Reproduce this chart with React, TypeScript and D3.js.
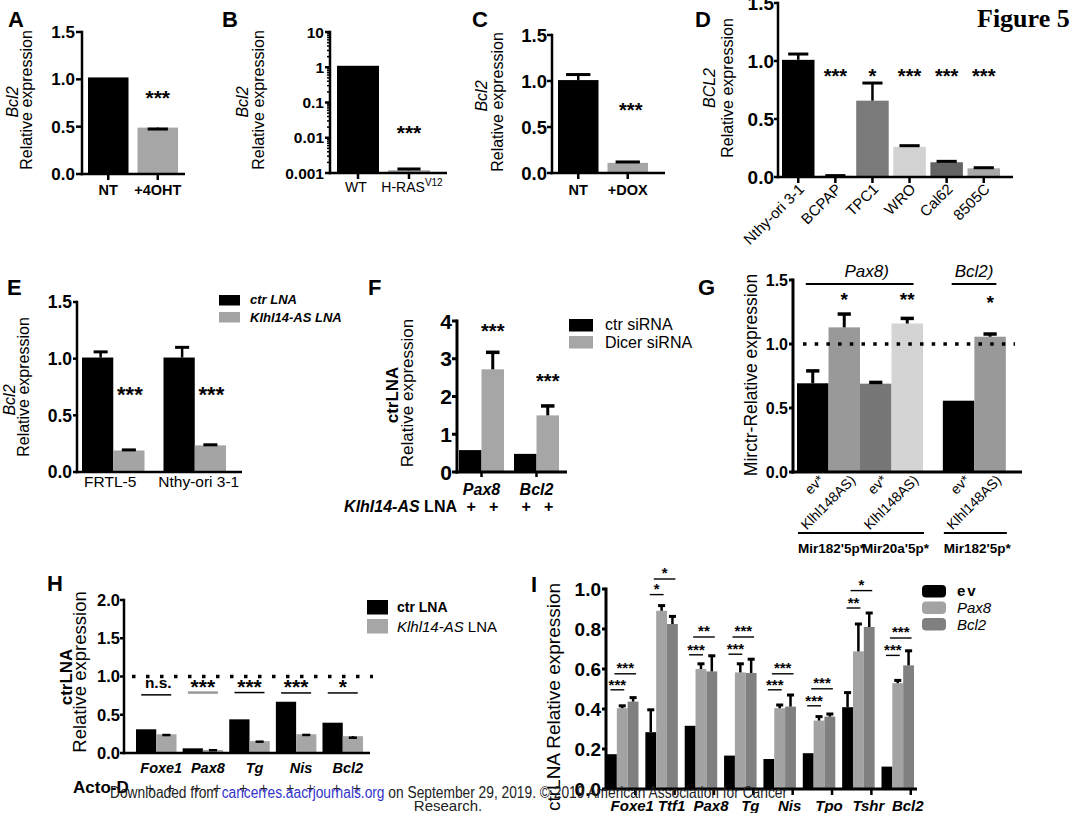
import React from "react";
import * as d3 from "d3";

const FONT = "'Liberation Sans', Arial, Helvetica, sans-serif";
const SERIF = "'Liberation Serif', 'Times New Roman', serif";
type N = number | null;

// ---------------- DATA ----------------
// A
const aCats = ["NT", "+4OHT"];
const aValues = [1.02, 0.49];
const aErr: N[] = [null, 0.475];
const aStar = "***";
const aStarY = 0.856;
const aTicks = [0, 0.5, 1.0, 1.5];
// B
const bCats = ["WT", "H-RAS"];
const bValues = [1.1, 0.0012];
const bErr: N[] = [null, 0.0013];
const bStar = "***";
const bStarY = 0.0195;
const bTicks = [0.001, 0.01, 0.1, 1, 10];
const bTickLabels = ["0.001", "0.01", "0.1", "1", "10"];
// C
const cCats = ["NT", "+DOX"];
const cValues = [1.01, 0.11];
const cErr: N[] = [1.07, 0.12];
const cStar = "***";
const cStarY = 0.74;
const cTicks = [0, 0.5, 1.0, 1.5];
// D
const dCats = ["Nthy-ori 3-1", "BCPAP", "TPC1", "WRO", "Cal62", "8505C"];
const dValues = [1.01, 0.01, 0.658, 0.26, 0.127, 0.075];
const dErr: N[] = [1.06, 0.012, 0.81, 0.27, 0.135, 0.08];
const dStars = ["", "***", "*", "***", "***", "***"];
const dStarY = 0.914;
const dColors = ["#000000", "#9c9c9c", "#7a7a7a", "#d2d2d2", "#636363", "#a8a8a8"];
const dTicks = [0, 0.5, 1.0, 1.5];
// E
const eGroups = ["FRTL-5", "Nthy-ori 3-1"];
const eSeries = ["ctr LNA", "Klhl14-AS LNA"];
const eCtr = [1.01, 1.01];
const eCtrErr = [1.06, 1.1];
const eKlhl = [0.19, 0.235];
const eKlhlErr = [0.195, 0.24];
const eStars = ["***", "***"];
const eStarY = 0.73;
const eTicks = [0, 0.5, 1.0, 1.5];
// F
const fGroups = ["Pax8", "Bcl2"];
const fSeries = ["ctr siRNA", "Dicer siRNA"];
const fCtr = [0.58, 0.48];
const fDicer = [2.72, 1.5];
const fDicerErr = [3.17, 1.75];
const fStars = ["***", "***"];
const fStarY = [3.85, 2.52];
const fTicks = [0, 1, 2, 3, 4];
// G
const gLabels = ["ev*", "Klhl148AS)", "ev*", "Klhl148AS)", "ev*", "Klhl148AS)"];
const gValues = [0.693, 1.13, 0.69, 1.16, 0.557, 1.057];
const gErr: N[] = [0.79, 1.234, 0.7, 1.2, null, 1.078];
const gColors = ["#000000", "#999999", "#777777", "#d4d4d4", "#000000", "#999999"];
const gStars = ["", "*", "", "**", "", "*"];
const gStarY = [0, 1.38, 0, 1.38, 0, 1.36];
const gTopLabels = ["Pax8)", "Bcl2)"];
const gTopSpans = [[0, 3], [4, 5]];
const gMirs = ["Mir182'5p*", "Mir20a'5p*", "Mir182'5p*"];
const gMirSpans = [[0, 1], [2, 3], [4, 5]];
const gTicks = [0, 0.5, 1.0, 1.5];
const gRef = 1.0;
// H
const hGenes = ["Foxe1", "Pax8", "Tg", "Nis", "Bcl2"];
const hSeries = ["ctr LNA", "Klhl14-AS LNA"];
const hCtr = [0.31, 0.061, 0.44, 0.67, 0.396];
const hKlhl = [0.245, 0.04, 0.155, 0.245, 0.22];
const hKlhlErr = [0.235, 0.036, 0.148, 0.236, 0.2];
const hSig = ["n.s.", "***", "***", "***", "*"];
const hSigY = [0.76, 0.79, 0.79, 0.785, 0.785];
const hSigColor = ["#000", "#999", "#000", "#000", "#000"];
const hTicks = [0, 0.5, 1.0, 1.5, 2.0];
const hRef = 1.0;
// I
const iGenes = ["Foxe1", "Ttf1", "Pax8", "Tg", "Nis", "Tpo", "Tshr", "Bcl2"];
const iSeries = ["ev", "Pax8", "Bcl2"];
const iEv = [0.174, 0.284, 0.316, 0.167, 0.15, 0.179, 0.409, 0.112];
const iEvErr: N[] = [null, 0.396, null, null, null, null, 0.482, null];
const iPax8 = [0.404, 0.891, 0.6, 0.583, 0.404, 0.342, 0.688, 0.529];
const iPax8Err = [0.416, 0.917, 0.626, 0.626, 0.42, 0.362, 0.825, 0.543];
const iBcl2 = [0.437, 0.825, 0.588, 0.58, 0.412, 0.362, 0.81, 0.618];
const iBcl2Err = [0.457, 0.863, 0.666, 0.649, 0.47, 0.375, 0.88, 0.691];
const iShortY = [0.496, 0.972, 0.671, 0.674, 0.496, 0.416, 0.905, 0.668];
const iShortTxt = ["***", "*", "***", "***", "***", "***", "**", "***"];
const iLongY = [0.576, 1.05, 0.76, 0.76, 0.576, 0.501, 0.992, 0.755];
const iLongTxt = ["***", "*", "**", "***", "***", "***", "*", "***"];
const iTicks = [0, 0.2, 0.4, 0.6, 0.8, 1.0];

// ---------------- HELPERS ----------------
const f1 = d3.format(".1f");

function band(domain: string[], left: number, right: number, bw: number) {
  const n = domain.length;
  const step = n > 1 ? (right - left - bw) / (n - 1) : bw;
  const w = bw / step;
  return d3
    .scaleBand<string>()
    .domain(domain)
    .range([left - (step * (1 - w)) / 2, right + (step * (1 - w)) / 2])
    .paddingInner(1 - w)
    .paddingOuter((1 - w) / 2);
}

function YAxis({ x, scale, ticks, labels, fs, tickLen = 5, gap = 2, sw = 2.5, fmt = f1 }: any) {
  const yTop = scale(ticks[ticks.length - 1]);
  const yBot = scale(ticks[0]);
  return (
    <g>
      <line x1={x} x2={x} y1={yTop - sw / 2} y2={yBot + sw / 2} stroke="#000" strokeWidth={sw} />
      {ticks.map((t: number, i: number) => (
        <g key={i}>
          <line x1={x - tickLen} x2={x} y1={scale(t)} y2={scale(t)} stroke="#000" strokeWidth={sw} />
          <text x={x - tickLen - gap} y={scale(t) + fs * 0.36} textAnchor="end" fontWeight="bold" fontSize={fs}>
            {labels ? labels[i] : fmt(t)}
          </text>
        </g>
      ))}
    </g>
  );
}

function XLine({ x0, x1, y, sw = 2.5 }: any) {
  return <line x1={x0 - sw / 2} x2={x1} y1={y} y2={y} stroke="#000" strokeWidth={sw} />;
}

function Err({ cx, v, e, scale, cw, sw = 2.5 }: any) {
  if (e == null) return null;
  const yv = scale(v);
  const ye = scale(e);
  return (
    <g stroke="#000">
      <line x1={cx} x2={cx} y1={yv} y2={ye} strokeWidth={sw} />
      <line x1={cx - cw / 2} x2={cx + cw / 2} y1={ye} y2={ye} strokeWidth={sw + 0.5} />
    </g>
  );
}

function Stars({ x, cy, t, fs }: any) {
  return (
    <text x={x} y={cy + 0.58 * fs} textAnchor="middle" fontWeight="bold" fontSize={fs}>
      {t}
    </text>
  );
}

function YTitle({ x, y, fs, children, italic, bold }: any) {
  return (
    <text
      transform={`translate(${x},${y}) rotate(-90)`}
      textAnchor="middle"
      fontSize={fs}
      fontStyle={italic ? "italic" : undefined}
      fontWeight={bold ? "bold" : undefined}
    >
      {children}
    </text>
  );
}

function Letter({ x, y, t }: any) {
  return (
    <text x={x} y={y} fontWeight="bold" fontSize={22}>
      {t}
    </text>
  );
}

// ---------------- PANELS ----------------
function PanelA() {
  const y = d3.scaleLinear().domain([0, 1.5]).range([174, 32]);
  const x = band(aCats, 88, 178, 40.5);
  const bw = x.bandwidth();
  const colors = ["#000", "#a6a6a6"];
  return (
    <g>
      <Letter x={8} y={27} t="A" />
      <YTitle x={18} y={102} fs={16} italic>Bcl2</YTitle>
      <YTitle x={32} y={100} fs={16}>Relative expression</YTitle>
      {aCats.map((c, i) => (
        <g key={c}>
          <rect x={x(c)} y={y(aValues[i])} width={bw} height={y(0) - y(aValues[i])} fill={colors[i]} />
          <Err cx={x(c)! + bw / 2} v={aValues[i]} e={aErr[i]} scale={y} cw={bw * 0.5} />
          <line x1={x(c)! + bw / 2} x2={x(c)! + bw / 2} y1={y(0)} y2={y(0) + 6} stroke="#000" strokeWidth={2.5} />
          <text x={x(c)! + bw / 2} y={195} textAnchor="middle" fontWeight="bold" fontSize={14.5}>{c}</text>
        </g>
      ))}
      <Stars x={x(aCats[1])! + bw / 2} cy={y(aStarY)} t={aStar} fs={21} />
      <YAxis x={82} scale={y} ticks={aTicks} fs={17} tickLen={6} gap={1} />
      <XLine x0={82} x1={185} y={y(0)} />
    </g>
  );
}

function PanelB() {
  const y = d3.scaleLog().domain([0.001, 10]).range([173, 32]);
  const x = band(bCats, 337, 430, 42);
  const bw = x.bandwidth();
  const colors = ["#000", "#a6a6a6"];
  const minor: number[] = [];
  [0.001, 0.01, 0.1, 1].forEach((d) => {
    for (let k = 2; k <= 9; k++) minor.push(d * k);
  });
  return (
    <g>
      <Letter x={222} y={27} t="B" />
      <YTitle x={248} y={102} fs={16} italic>Bcl2</YTitle>
      <YTitle x={264} y={100} fs={16}>Relative expression</YTitle>
      {bCats.map((c, i) => (
        <g key={c}>
          <rect x={x(c)} y={y(bValues[i])} width={bw} height={y(0.001) - y(bValues[i])} fill={colors[i]} />
          <Err cx={x(c)! + bw / 2} v={bValues[i]} e={bErr[i]} scale={y} cw={bw * 0.55} />
          <line x1={x(c)! + bw / 2} x2={x(c)! + bw / 2} y1={y(0.001)} y2={y(0.001) + 6} stroke="#000" strokeWidth={2.5} />
        </g>
      ))}
      <text x={x("WT")! + bw / 2 - 2} y={192} textAnchor="middle" fontSize={14}>WT</text>
      <text x={x("H-RAS")! + bw / 2 + 3} y={192} textAnchor="middle" fontSize={14}>
        H-RAS<tspan dy={-6} fontSize={10}>V12</tspan>
      </text>
      <Stars x={x(bCats[1])! + bw / 2} cy={y(bStarY)} t={bStar} fs={21} />
      {minor.map((m, i) => (
        <line key={i} x1={330 - 3} x2={330} y1={y(m)} y2={y(m)} stroke="#000" strokeWidth={1.5} />
      ))}
      <YAxis x={330} scale={y} ticks={bTicks} labels={bTickLabels} fs={15.5} tickLen={5} gap={1} />
      <XLine x0={330} x1={447} y={y(0.001)} />
    </g>
  );
}

function PanelC() {
  const y = d3.scaleLinear().domain([0, 1.5]).range([173, 35]);
  const x = band(cCats, 558, 648, 40.5);
  const bw = x.bandwidth();
  const colors = ["#000", "#a6a6a6"];
  return (
    <g>
      <Letter x={472} y={27} t="C" />
      <YTitle x={487} y={96} fs={16} italic>Bcl2</YTitle>
      <YTitle x={503} y={102} fs={16}>Relative expression</YTitle>
      {cCats.map((c, i) => (
        <g key={c}>
          <rect x={x(c)} y={y(cValues[i])} width={bw} height={y(0) - y(cValues[i])} fill={colors[i]} />
          <Err cx={x(c)! + bw / 2} v={cValues[i]} e={cErr[i]} scale={y} cw={bw * 0.6} />
          <line x1={x(c)! + bw / 2} x2={x(c)! + bw / 2} y1={y(0)} y2={y(0) + 6} stroke="#000" strokeWidth={2.5} />
          <text x={x(c)! + bw / 2} y={195} textAnchor="middle" fontWeight="bold" fontSize={14.5}>{c}</text>
        </g>
      ))}
      <Stars x={x(cCats[1])! + bw / 2 + 3} cy={y(cStarY)} t={cStar} fs={20} />
      <YAxis x={552} scale={y} ticks={cTicks} fs={18.5} tickLen={5} gap={0} />
      <XLine x0={552} x1={665} y={y(0)} />
    </g>
  );
}

function PanelD() {
  const y = d3.scaleLinear().domain([0, 1.5]).range([177, 3]);
  const x = band(dCats, 782, 1000, 32.5);
  const bw = x.bandwidth();
  return (
    <g>
      <Letter x={695} y={27} t="D" />
      <YTitle x={715} y={88} fs={16} italic>BCL2</YTitle>
      <YTitle x={733} y={88} fs={16}>Relative expression</YTitle>
      {dCats.map((c, i) => {
        const cx = x(c)! + bw / 2;
        return (
          <g key={c}>
            <rect x={x(c)} y={y(dValues[i])} width={bw} height={y(0) - y(dValues[i])} fill={dColors[i]} />
            <Err cx={cx} v={dValues[i]} e={dErr[i]} scale={y} cw={bw * 0.62} />
            <line x1={cx} x2={cx} y1={y(0)} y2={y(0) + 6} stroke="#000" strokeWidth={2.5} />
            <text transform={`translate(${cx + 7},${190}) rotate(-45)`} textAnchor="end" fontSize={15}>{c}</text>
            {dStars[i] && <Stars x={cx} cy={y(dStarY)} t={dStars[i]} fs={20} />}
          </g>
        );
      })}
      <YAxis x={778} scale={y} ticks={dTicks} fs={19} tickLen={4} gap={0} />
      <XLine x0={778} x1={1013} y={y(0)} />
      <text x={977} y={27} fontFamily={SERIF} fontWeight="bold" fontSize={26}>Figure 5</text>
    </g>
  );
}

function PanelE() {
  const y = d3.scaleLinear().domain([0, 1.5]).range([472, 302]);
  const x = band(eGroups, 82, 226, 62.5);
  const gw = x.bandwidth();
  const sub = d3.scaleBand<string>().domain(eSeries).range([0, gw]);
  const sw = sub.bandwidth();
  const colors = ["#000", "#a4a4a4"];
  const vals = [eCtr, eKlhl];
  const errs = [eCtrErr, eKlhlErr];
  return (
    <g>
      <Letter x={7} y={295} t="E" />
      <YTitle x={15} y={400} fs={16} italic>Bcl2</YTitle>
      <YTitle x={29} y={387} fs={16}>Relative expression</YTitle>
      {eGroups.map((g, gi) => (
        <g key={g}>
          {eSeries.map((s, si) => (
            <g key={s}>
              <rect x={x(g)! + sub(s)!} y={y(vals[si][gi])} width={sw} height={y(0) - y(vals[si][gi])} fill={colors[si]} />
              <Err cx={x(g)! + sub(s)! + sw / 2 + (si === 0 ? 3 : 0)} v={vals[si][gi]} e={errs[si][gi]} scale={y} cw={sw * 0.45} />
            </g>
          ))}
          <Stars x={x(g)! + sub(eSeries[1])! + sw / 2 + 1} cy={y(eStarY)} t={eStars[gi]} fs={22} />
          <text x={x(g)! + gw / 2 + (gi === 0 ? -3 : 4)} y={487} textAnchor="middle" fontSize={15.5}>{g}</text>
        </g>
      ))}
      <YAxis x={77} scale={y} ticks={eTicks} fs={17.5} tickLen={4} gap={1} />
      <XLine x0={77} x1={242} y={y(0)} />
      {eSeries.map((s, si) => (
        <g key={s}>
          <rect x={219} y={295 + si * 17} width={21} height={10.5} fill={colors[si]} />
          <text x={250} y={304 + si * 17.5} fontStyle="italic" fontWeight="bold" fontSize={13}>{s}</text>
        </g>
      ))}
    </g>
  );
}

function PanelF() {
  const y = d3.scaleLinear().domain([0, 4]).range([472, 321]);
  const x = band(fGroups, 459, 559, 45);
  const gw = x.bandwidth();
  const sub = d3.scaleBand<string>().domain(fSeries).range([0, gw]);
  const sw = sub.bandwidth();
  const colors = ["#000", "#a6a6a6"];
  const vals = [fCtr, fDicer];
  return (
    <g>
      <Letter x={368} y={295} t="F" />
      <YTitle x={398} y={395} fs={17} bold>ctrLNA</YTitle>
      <YTitle x={413} y={393} fs={17}>Relative expression</YTitle>
      {fGroups.map((g, gi) => (
        <g key={g}>
          {fSeries.map((s, si) => (
            <rect key={s} x={x(g)! + sub(s)!} y={y(vals[si][gi])} width={sw} height={y(0) - y(vals[si][gi])} fill={colors[si]} />
          ))}
          <Err cx={x(g)! + sub(fSeries[1])! + sw / 2} v={fDicer[gi]} e={fDicerErr[gi]} scale={y} cw={sw * 0.6} sw={3} />
          <line x1={x(g)! + gw / 2} x2={x(g)! + gw / 2} y1={y(0)} y2={y(0) + 5} stroke="#000" strokeWidth={2.5} />
          <Stars x={x(g)! + sub(fSeries[1])! + sw / 2} cy={y(fStarY[gi])} t={fStars[gi]} fs={20} />
          <text x={x(g)! + gw / 2} y={495} textAnchor="middle" fontStyle="italic" fontWeight="bold" fontSize={16}>{g}</text>
          {fSeries.map((s, si) => (
            <text key={s} x={x(g)! + sub(s)! + sw / 2 + 1} y={512} textAnchor="middle" fontWeight="bold" fontSize={16}>+</text>
          ))}
        </g>
      ))}
      <text x={457} y={512} textAnchor="end" fontWeight="bold" fontSize={16}>
        <tspan fontStyle="italic">Klhl14-AS</tspan> LNA
      </text>
      <YAxis x={457} scale={y} ticks={fTicks} fs={21} tickLen={5} gap={0} fmt={d3.format("d")} sw={3} />
      <XLine x0={457} x1={567} y={y(0)} sw={3} />
      {fSeries.map((s, si) => (
        <g key={s}>
          <rect x={569} y={319 + si * 17} width={24} height={12.5} fill={colors[si]} />
          <text x={605} y={330 + si * 18} fontSize={16}>{s}</text>
        </g>
      ))}
    </g>
  );
}

function PanelG() {
  const y = d3.scaleLinear().domain([0, 1.5]).range([472, 280]);
  const bw = 31.5;
  const xs = d3.scaleLinear().domain([0, 1]).range([797, 797 + bw]);
  const pos = (i: number) => xs(i < 4 ? i : i + 0.63);
  return (
    <g>
      <Letter x={698} y={295} t="G" />
      <YTitle x={757} y={375} fs={17.5}>Mirctr-Relative expression</YTitle>
      {gValues.map((v, i) => {
        const cx = pos(i) + bw / 2;
        return (
          <g key={i}>
            <rect x={pos(i)} y={y(v)} width={bw} height={y(0) - y(v)} fill={gColors[i]} />
            <Err cx={cx} v={v} e={gErr[i]} scale={y} cw={bw * 0.42} sw={3} />
            {gStars[i] && <Stars x={cx} cy={y(gStarY[i])} t={gStars[i]} fs={19} />}
            <text transform={`translate(${cx + 12},${481}) rotate(-45)`} textAnchor="end" fontSize={14}>{gLabels[i]}</text>
          </g>
        );
      })}
      <line x1={803} x2={1015} y1={y(gRef)} y2={y(gRef)} stroke="#000" strokeWidth={3.5} strokeDasharray="3.5 8.2" />
      {gTopLabels.map((t, k) => {
        const [a, b] = gTopSpans[k];
        const x0 = pos(a) + bw * 0.28;
        const x1 = pos(b) + bw * 0.7;
        return (
          <g key={k}>
            <line x1={x0} x2={x1} y1={284} y2={284} stroke="#000" strokeWidth={2} />
            <text x={(x0 + x1) / 2 + (k === 0 ? 7 : 0)} y={277} textAnchor="middle" fontStyle="italic" fontSize={17}>{t}</text>
          </g>
        );
      })}
      {gMirs.map((t, k) => {
        const [a, b] = gMirSpans[k];
        const x0 = pos(a) + 1;
        const x1 = pos(b) + bw + 1;
        return (
          <g key={k}>
            <line x1={x0} x2={x1} y1={533} y2={533} stroke="#000" strokeWidth={2} />
            <text x={(x0 + x1) / 2 + (k === 1 ? 3 : 2)} y={553} textAnchor="middle" fontWeight="bold" fontSize={13.5}>{t}</text>
          </g>
        );
      })}
      <YAxis x={793} scale={y} ticks={gTicks} fs={16} tickLen={4} gap={1} sw={3} />
      <XLine x0={793} x1={1022} y={y(0)} sw={3} />
    </g>
  );
}

function PanelH() {
  const y = d3.scaleLinear().domain([0, 2]).range([753, 600]);
  const x = band(hGenes, 136, 363, 40.5);
  const gw = x.bandwidth();
  const sub = d3.scaleBand<string>().domain(hSeries).range([0, gw]);
  const sw = sub.bandwidth();
  const colors = ["#000", "#a6a6a6"];
  const vals = [hCtr, hKlhl];
  return (
    <g>
      <Letter x={47} y={591} t="H" />
      <YTitle x={72} y={677} fs={17} bold>ctrLNA</YTitle>
      <YTitle x={86} y={672} fs={18.5}>Relative expression</YTitle>
      {hGenes.map((g, gi) => {
        const cx = x(g)! + gw / 2;
        return (
          <g key={g}>
            {hSeries.map((s, si) => (
              <rect key={s} x={x(g)! + sub(s)!} y={y(vals[si][gi])} width={sw} height={y(0) - y(vals[si][gi])} fill={colors[si]} />
            ))}
            <Err cx={x(g)! + sub(hSeries[1])! + sw / 2} v={hKlhl[gi]} e={hKlhlErr[gi]} scale={y} cw={sw * 0.4} sw={2} />
            <line x1={cx - 15} x2={cx + 15} y1={y(hSigY[gi])} y2={y(hSigY[gi])} stroke={hSigColor[gi]} strokeWidth={hSigColor[gi] === "#000" ? 1.5 : 2.5} />
            {hSig[gi] === "n.s." ? (
              <text x={cx + 2} y={688} textAnchor="middle" fontWeight="bold" fontSize={15.5}>n.s.</text>
            ) : (
              <Stars x={cx} cy={682} t={hSig[gi]} fs={21} />
            )}
            <text x={cx + 5} y={773} textAnchor="middle" fontStyle="italic" fontWeight="bold" fontSize={14.5}>{g}</text>
            {hSeries.map((s, si) => (
              <text key={s} x={x(g)! + sub(s)! + sw / 2 + 4} y={793} textAnchor="middle" fontSize={14} fill="#222">+</text>
            ))}
          </g>
        );
      })}
      <line x1={132} x2={373} y1={y(hRef)} y2={y(hRef)} stroke="#000" strokeWidth={3.5} strokeDasharray="3.5 10.5" />
      <text x={73} y={793} fontWeight="bold" fontSize={17}>Acto-D</text>
      <YAxis x={124} scale={y} ticks={hTicks} fs={16.5} tickLen={4} gap={0} />
      <XLine x0={124} x1={370} y={y(0)} />
      {hSeries.map((s, si) => (
        <g key={s}>
          <rect x={367} y={600 + si * 19} width={21} height={14.5} fill={colors[si]} />
        </g>
      ))}
      <text x={397} y={612} fontWeight="bold" fontSize={14}>ctr LNA</text>
      <text x={397} y={632} fontSize={15}>
        <tspan fontStyle="italic">Klhl14-AS</tspan> LNA
      </text>
    </g>
  );
}

function PanelI() {
  const y = d3.scaleLinear().domain([0, 1]).range([789, 589]);
  const x = band(iGenes, 606, 914, 32.5);
  const gw = x.bandwidth();
  const sub = d3.scaleBand<string>().domain(iSeries).range([0, gw]);
  const sw = sub.bandwidth();
  const colors = ["#000000", "#a3a3a3", "#808080"];
  const vals = [iEv, iPax8, iBcl2];
  const errs = [iEvErr, iPax8Err, iBcl2Err];
  return (
    <g>
      <Letter x={531} y={592} t="I" />
      <text transform="translate(560,697) rotate(-90)" textAnchor="middle" fontSize={19}>
        ctrLNA Relative expression
      </text>
      {iGenes.map((g, gi) => {
        const c = (k: number) => x(g)! + sub(iSeries[k])! + sw / 2;
        const ys = y(iShortY[gi]);
        const yl = y(iLongY[gi]);
        const s0 = c(0) - 1, s1 = c(1) + 2;
        const l0 = c(0) + 3, l1 = c(2) + 3;
        return (
          <g key={g}>
            {iSeries.map((s, si) => (
              <g key={s}>
                <rect x={x(g)! + sub(s)!} y={y(vals[si][gi])} width={sw} height={y(0) - y(vals[si][gi])} fill={colors[si]} />
                <Err cx={c(si)} v={vals[si][gi]} e={errs[si][gi]} scale={y} cw={sw * 0.65} sw={2.5} />
              </g>
            ))}
            <line x1={s0} x2={s1} y1={ys} y2={ys} stroke="#000" strokeWidth={1.4} />
            <Stars x={(s0 + s1) / 2} cy={ys - 9} t={iShortTxt[gi]} fs={15} />
            <line x1={l0} x2={l1} y1={yl} y2={yl} stroke="#000" strokeWidth={1.4} />
            <Stars x={(l0 + l1) / 2} cy={yl - 9.5} t={iLongTxt[gi]} fs={15} />
            <line x1={x(g)! + gw / 2 + 13} x2={x(g)! + gw / 2 + 13} y1={y(0)} y2={y(0) + 6} stroke="#000" strokeWidth={2.5} />
            <text x={x(g)! + gw / 2 + 10} y={811} textAnchor="middle" fontStyle="italic" fontWeight="bold" fontSize={15}>{g}</text>
          </g>
        );
      })}
      <YAxis x={606} scale={y} ticks={iTicks} fs={19} tickLen={4} gap={1} sw={3} />
      <XLine x0={606} x1={917} y={y(0)} sw={3} />
      {iSeries.map((s, si) => (
        <g key={s}>
          <rect x={922} y={585 + si * 16.5} width={24} height={12.5} rx={4} fill={colors[si]} />
          <text
            x={957}
            y={596 + si * 17}
            fontSize={15}
            fontWeight={si === 0 ? "bold" : undefined}
            fontStyle={si === 0 ? undefined : "italic"}
            letterSpacing={si === 0 ? 2 : 0}
          >
            {s}
          </text>
        </g>
      ))}
    </g>
  );
}

function Footer() {
  return (
    <g>
      <text x={110} y={798} fontSize={16} fill="#222" textLength={677} lengthAdjust="spacingAndGlyphs">
        Downloaded from <tspan fill="#3333cc">cancerres.aacrjournals.org</tspan> on September 29, 2019. © 2019 American Association for Cancer
      </text>
      <text x={448} y={811} textAnchor="middle" fontSize={15} fill="#222">
        Research.
      </text>
    </g>
  );
}

export default function App() {
  return (
    <svg
      width={1080}
      height={813}
      viewBox="0 0 1080 813"
      fontFamily={FONT}
      style={{ position: "absolute", left: 0, top: 0, display: "block", background: "#fff" }}
    >
      <rect width={1080} height={813} fill="#fff" />
      <PanelA />
      <PanelB />
      <PanelC />
      <PanelD />
      <PanelE />
      <PanelF />
      <PanelG />
      <PanelH />
      <PanelI />
      <Footer />
    </svg>
  );
}
